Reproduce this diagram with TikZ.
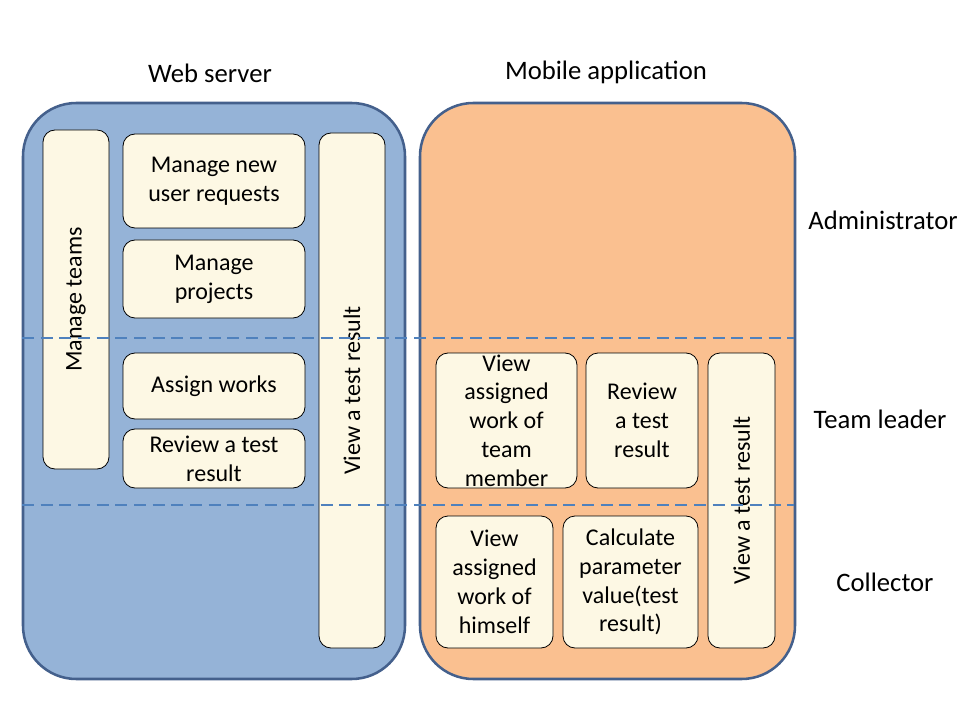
\documentclass[tikz,border=0pt]{standalone}
\usepackage{fontspec}
\setmainfont{Carlito}
\usetikzlibrary{fit}
\definecolor{webfill}{RGB}{149,179,215}
\definecolor{mobfill}{RGB}{250,192,144}
\definecolor{bigborder}{RGB}{68,96,140}
\definecolor{creamfill}{RGB}{253,248,228}
\definecolor{dashcol}{RGB}{79,129,189}
\tikzset{
  bigbox/.style={draw=bigborder, line width=1.9pt, rounded corners=40pt, inner sep=0pt},
  cbox/.style={draw=black, line width=0.6pt, fill=creamfill, rounded corners=9pt, inner sep=0pt},
  btext/.style={inner sep=0pt, align=center},
  rtext/.style={rotate=90, inner sep=0pt},
  dashline/.style={draw=dashcol, line width=2pt, dash pattern=on 9pt off 5pt},
  label/.style={inner sep=0pt, font=\fontsize{20}{24}\selectfont}
}
\begin{document}
\begin{tikzpicture}[x=0.75pt,y=-0.75pt,font=\fontsize{18}{21.6}\selectfont]
\fill[white] (0,0) rectangle (960,720);
\useasboundingbox (0,0) rectangle (960,720);

% big containers
\node[bigbox, fill=webfill, fit={(23,103) (405,679)}] (web) {};
\node[bigbox, fill=mobfill, fit={(420,103) (795,679)}] (mob) {};

% titles
\node[label] (webt) at (210,73) {Web server};
\node[label] (mobt) at (606,72) {Mobile application};
\node[label] (admin) at (883,220) {Administrator};
\node[label] (tl) at (880,419) {Team leader};
\node[label] (coll) at (885,582) {Collector};

% web server boxes
\node[cbox, fit={(43,130) (109,469)}] (mteams) {};
\node[rtext] (mteamst) at (mteams.center) {Manage teams};
\node[cbox, fit={(123,134) (305,228)}] (mnur) {};
\node[btext] (mnurt) at (mnur.center) {Manage new\\user requests};
\node[cbox, fit={(123,240) (305,318)}] (mproj) {};
\node[btext] (mprojt) at (mproj.center) {Manage\\projects};
\node[cbox, fit={(123,353) (305,419)}] (aw) {};
\node[btext] (awt) at (aw.center) {Assign works};
\node[cbox, fit={(123,429) (305,488)}] (rtr) {};
\node[btext] (rtrt) at (rtr.center) {Review a test\\result};
\node[cbox, fit={(319,133) (385,648)}] (vtr) {};
\node[rtext] (vtrt) at (vtr.center) {View a test result};

% mobile boxes
\node[cbox, fit={(436,353) (577,488)}] (vawtm) {};
\node[btext] (vawtmt) at (vawtm.center) {View\\assigned\\work of\\team\\member};
\node[cbox, fit={(586,353) (698,488)}] (mrtr) {};
\node[btext] (mrtrt) at (mrtr.center) {Review\\a test\\result};
\node[cbox, fit={(708,353) (775,648)}] (mvtr) {};
\node[rtext] (mvtrt) at (mvtr.center) {View a test result};
\node[cbox, fit={(436,516) (553,648)}] (vawh) {};
\node[btext] (vawht) at (vawh.center) {View\\assigned\\work of\\himself};
\node[cbox, fit={(563,516) (698,648)}] (cpv) {};
\node[btext] (cpvt) at (cpv.center) {Calculate\\parameter\\value(test\\result)};

% dashed separators
\coordinate (d1l) at (22,338);
\coordinate (d1r) at (794,338);
\coordinate (d2l) at (22,505);
\coordinate (d2r) at (794,505);
\draw[dashline] (d1l) -- (d1r);
\draw[dashline] (d2l) -- (d2r);
\end{tikzpicture}
\end{document}
